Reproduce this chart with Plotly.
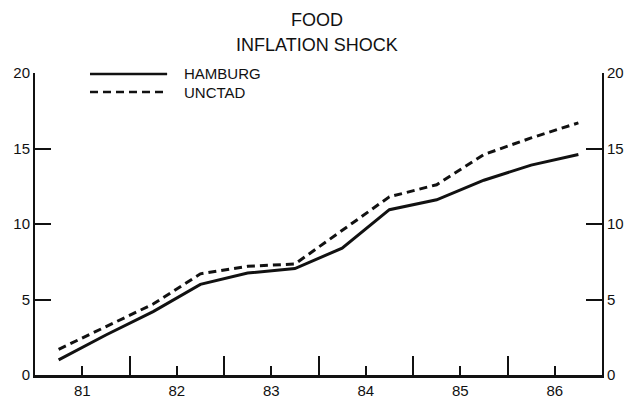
import plotly.graph_objects as go

# half-year observation points
periods = [80.75, 81.25, 81.75, 82.25, 82.75, 83.25, 83.75, 84.25, 84.75, 85.25, 85.75, 86.25]
hamburg = [1.0, 2.65, 4.2, 6.0, 6.75, 7.05, 8.4, 10.95, 11.6, 12.9, 13.9, 14.6]
unctad = [1.7, 3.2, 4.7, 6.7, 7.2, 7.35, 9.6, 11.8, 12.6, 14.6, 15.7, 16.7]

year_ticks = [81, 82, 83, 84, 85, 86]
year_labels = ["81", "82", "83", "84", "85", "86"]
half_year_ticks = [81.5, 82.5, 83.5, 84.5, 85.5]
y_ticks = [0, 5, 10, 15, 20]

FONT = "Liberation Sans Narrow, Liberation Sans, Arial, sans-serif"
INK = "#111111"

fig = go.Figure()
fig.add_trace(go.Scatter(x=periods, y=hamburg, name="HAMBURG", mode="lines",
                         line={"color": INK, "width": 3}))
# same scale on both sides, so the second series lives on the right-hand axis
fig.add_trace(go.Scatter(x=periods, y=unctad, name="UNCTAD", mode="lines", yaxis="y2",
                         line={"color": INK, "width": 3, "dash": "8px,5px"}))

axis_common = dict(showgrid=False, zeroline=False, showline=True, linecolor=INK, linewidth=2,
                   ticks="inside", tickcolor=INK, tickwidth=2, automargin=False,
                   tickfont={"family": FONT, "size": 15, "color": INK})

# margins allow for the page's 8px body offset in the screenshot
fig.update_layout(
    width=640, height=403,
    margin={"l": 27, "r": 46, "t": 65, "b": 36},
    paper_bgcolor="white", plot_bgcolor="white",
    showlegend=False,
    xaxis=dict(axis_common, range=[80.5, 86.5], tickvals=year_ticks, ticktext=year_labels,
               ticklen=9, linewidth=2.5,
               minor={"tickvals": half_year_ticks, "ticks": "inside", "ticklen": 19,
                      "tickcolor": INK, "tickwidth": 2, "showgrid": False}),
    yaxis=dict(axis_common, range=[0, 20], tickvals=y_ticks, ticklen=16, side="left"),
    yaxis2=dict(axis_common, range=[0, 20], tickvals=y_ticks, ticklen=16, side="right",
                overlaying="y"),
)

# two-line heading
for text, yy in [("FOOD", 1.175), ("INFLATION SHOCK", 1.093)]:
    fig.add_annotation(text=text, xref="paper", yref="paper", x=0.497, y=yy,
                       xanchor="center", yanchor="middle", showarrow=False,
                       font={"family": FONT, "size": 18, "color": INK})

# legend drawn as a key block like the original
legend_items = [("HAMBURG", "solid", 0.997), ("UNCTAD", "8px,5px", 0.937)]
for label, dash, yy in legend_items:
    fig.add_shape(type="line", xref="paper", yref="paper", x0=0.097, x1=0.233, y0=yy, y1=yy,
                  line={"color": INK, "width": 2.5, "dash": dash})
    fig.add_annotation(text=label, xref="paper", yref="paper", x=0.259, y=yy,
                       xanchor="left", yanchor="middle", showarrow=False,
                       font={"family": FONT, "size": 15, "color": INK})

fig.write_html("out.html")
